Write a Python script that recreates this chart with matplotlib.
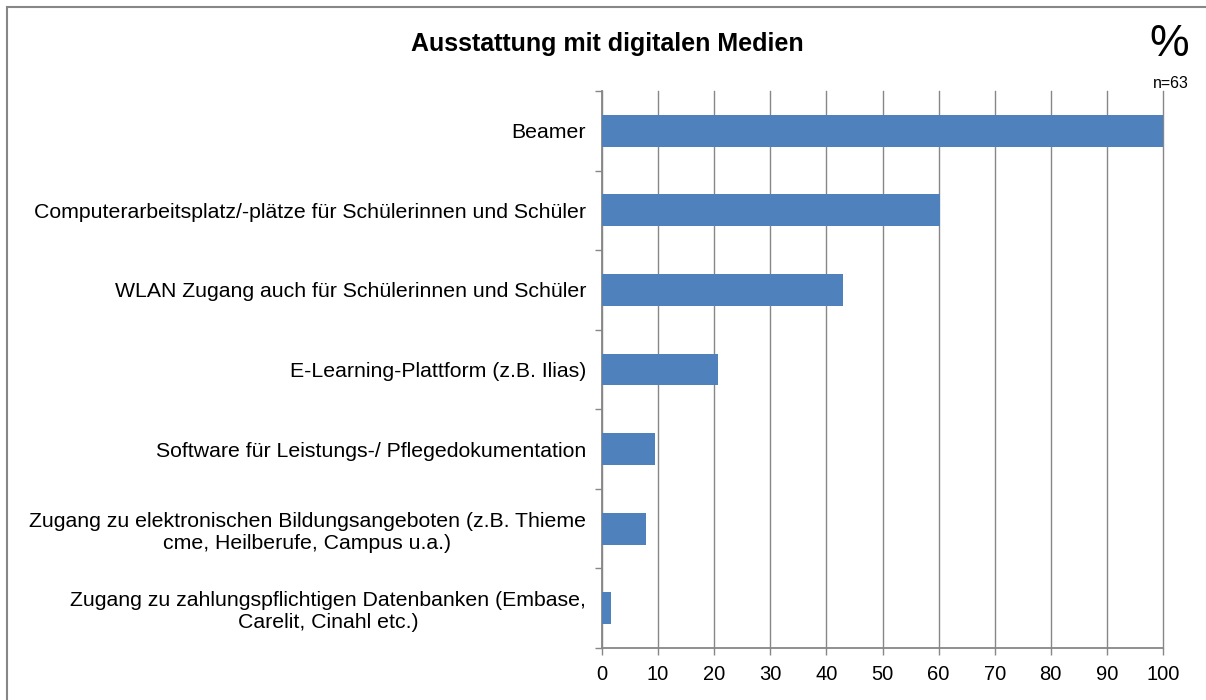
import matplotlib.pyplot as plt
import numpy as np

plt.rcParams['font.family'] = ['Liberation Sans', 'DejaVu Sans']

kategorien = [
    "Beamer",
    "Computerarbeitsplatz/-plätze für Schülerinnen und Schüler",
    "WLAN Zugang auch für Schülerinnen und Schüler",
    "E-Learning-Plattform (z.B. Ilias)",
    "Software für Leistungs-/ Pflegedokumentation",
    "Zugang zu elektronischen Bildungsangeboten (z.B. Thieme\ncme, Heilberufe, Campus u.a.)",
    "Zugang zu zahlungspflichtigen Datenbanken (Embase,\nCarelit, Cinahl etc.)",
]
werte = [100.0, 60.3, 42.9, 20.6, 9.5, 7.9, 1.6]
x_ticks = list(range(0, 101, 10))

grau = "#878787"
blau = "#4F81BD"

W, H = 1206, 700
fig = plt.figure(figsize=(W / 100, H / 100), dpi=100)
# Plotbereich in Pixeln: links 602, rechts 1163, oben 91, unten 648
ax = fig.add_axes([602 / W, 1 - 648 / H, (1163 - 602) / W, (648 - 91) / H])

y = np.arange(len(kategorien))
ax.barh(y, werte, height=0.4, color=blau, zorder=3)
ax.set_ylim(len(kategorien) - 0.5, -0.5)
ax.set_xlim(0, 100)

ax.set_xticks(x_ticks)
ax.tick_params(axis='x', labelsize=14.5, length=5, color=grau, width=1, pad=7.5)
ax.xaxis.grid(True, color=grau, linewidth=1, zorder=0, clip_on=False)

ax.set_yticks(y)
ax.set_yticklabels(kategorien, fontsize=15.3, multialignment='center')
ax.set_yticks(np.arange(-0.5, len(kategorien), 1), minor=True)
ax.tick_params(axis='y', which='major', length=0, pad=11.5)
ax.tick_params(axis='y', which='minor', length=5, color=grau, width=1)

for s in ['top', 'right']:
    ax.spines[s].set_visible(False)
for s in ['left', 'bottom']:
    ax.spines[s].set_color(grau)
    ax.spines[s].set_linewidth(1.3)

fig.text(607 / W, 1 - 44 / H, "Ausstattung mit digitalen Medien",
         fontsize=18, fontweight='bold', ha='center', va='center')
fig.text(1169 / W, 1 - 45 / H, "%", fontsize=32, ha='center', va='center')
fig.text(1171 / W, 1 - 83 / H, "n=63", fontsize=11.5, ha='center', va='center')

# Rahmen: rechts und unten ausserhalb des Bildes abgeschnitten
rahmen = plt.Rectangle((7 / W, -20 / H), 1230 / W, 713 / H,
                       transform=fig.transFigure, fill=False,
                       edgecolor=grau, linewidth=1.5)
fig.patches.append(rahmen)

fig.savefig("out.png", dpi=100)
